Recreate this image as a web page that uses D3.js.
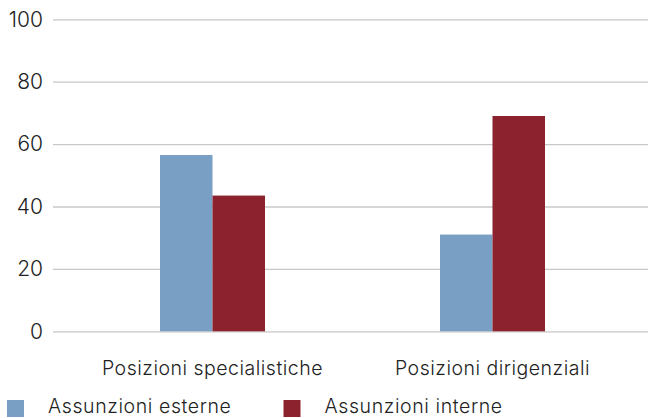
<!DOCTYPE html>
<html>
<head>
<meta charset="utf-8">
<script src="https://cdn.jsdelivr.net/npm/d3@7"></script>
<style>
  html, body { margin: 0; padding: 0; background: #fff; }
  svg { display: block; font-family: Inter, "Liberation Sans", sans-serif; font-weight: 300; }
</style>
</head>
<body>
<svg id="chart" width="648" height="418"></svg>
<script>
// Categories and series
const categories = ["Posizioni specialistiche", "Posizioni dirigenziali"];
const seriesNames = ["Assunzioni esterne", "Assunzioni interne"];
const esterne = [56.5, 31];
const interne = [43.5, 69];
const yTicks = [0, 20, 40, 60, 80, 100];
const colors = ["#7a9fc4", "#8b222d"];

const seriesValues = [esterne, interne];
const svg = d3.select("#chart");

const y = d3.scaleLinear().domain([0, 100]).range([331.3, 19.3]);
const x = d3.scaleBand().domain(categories).range([72.5, 632.5])
  .paddingInner(0.625).paddingOuter(0.3125);
const xs = d3.scaleBand().domain(seriesNames).range([0, x.bandwidth()]);

// Horizontal gridlines with value labels
const yAxis = d3.axisLeft(y).tickValues(yTicks).tickSize(-595).tickPadding(10).tickFormat(d3.format("d"));
const gy = svg.append("g").attr("transform", "translate(53,0)").call(yAxis);
gy.select(".domain").remove();
gy.selectAll(".tick line").attr("stroke", "#c8c8c8").attr("stroke-width", 1.3);
gy.selectAll(".tick text").attr("fill", "#222").attr("font-size", 21)
  .attr("font-family", "Inter, sans-serif").attr("font-weight", 300);

// Bars
const groups = svg.append("g").selectAll("g").data(categories).join("g")
  .attr("transform", d => `translate(${x(d)},0)`);
groups.selectAll("rect")
  .data((c, i) => seriesNames.map((s, j) => ({ s, v: seriesValues[j][i], j })))
  .join("rect")
  .attr("x", d => xs(d.s))
  .attr("width", xs.bandwidth())
  .attr("y", d => y(d.v))
  .attr("height", d => y(0) - y(d.v))
  .attr("fill", d => colors[d.j]);

// Category labels
svg.append("g").selectAll("text").data(categories).join("text")
  .attr("x", d => x(d) + x.bandwidth() / 2)
  .attr("y", 375)
  .attr("text-anchor", "middle")
  .attr("font-size", 19.5)
  .attr("letter-spacing", 0.5)
  .attr("fill", "#222")
  .text(d => d);

// Legend
const legendX = [7, 283.5];
const lg = svg.append("g").selectAll("g").data(seriesNames).join("g")
  .attr("transform", (d, i) => `translate(${legendX[i]},400)`);
lg.append("rect").attr("width", 17).attr("height", 17).attr("fill", (d, i) => colors[i]);
lg.append("text").attr("x", 41).attr("y", 13)
  .attr("font-size", 19.5).attr("letter-spacing", 0.6).attr("fill", "#222").text(d => d);
</script>
</body>
</html>
